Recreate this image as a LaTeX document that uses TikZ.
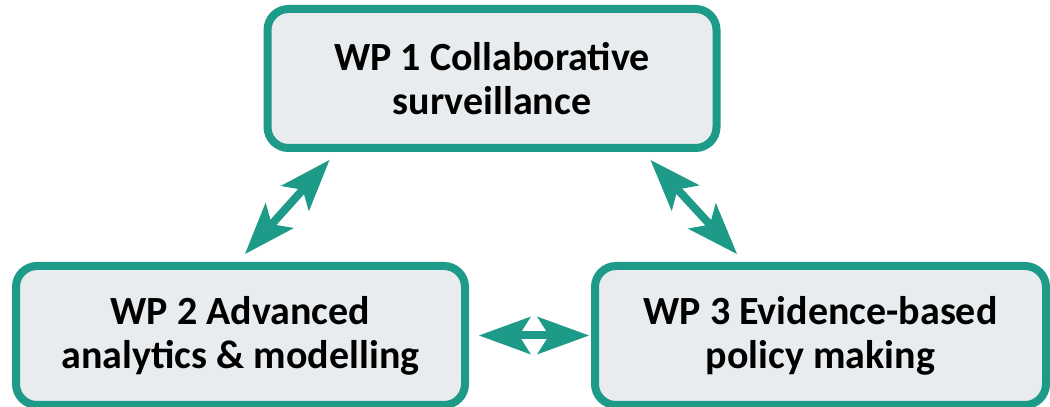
\documentclass[tikz,border=0pt]{standalone}
\usepackage{fontspec}
\setmainfont{Carlito}
\usetikzlibrary{arrows.meta,calc}
\definecolor{tealline}{RGB}{30,154,136}
\definecolor{boxfill}{RGB}{232,236,238}
\begin{document}
\begin{tikzpicture}[x=1pt,y=1pt,
  wpbox/.style={draw=tealline, fill=boxfill, line width=8pt, rounded corners=21pt,
    minimum width=449pt, minimum height=139pt, inner sep=0pt, outer sep=0pt, align=center,
    font=\fontsize{40}{44}\selectfont\bfseries},
  dblarrow/.style={draw=tealline, line width=8pt,
    {Stealth[length=52pt,width=38pt,inset=12pt,line width=0pt]}-{Stealth[length=52pt,width=38pt,inset=12pt,line width=0pt]}}]
\useasboundingbox (0,0) rectangle (1050,407);
\node[wpbox] (wp1) at (492,328.5) {WP 1 Collaborative\\surveillance};
\node[wpbox] (wp2) at (240.5,71.5) {WP 2 Advanced\\analytics \& modelling};
\node[wpbox, minimum width=451pt] (wp3) at (820.5,71.5) {WP 3 Evidence-based\\policy making};
\coordinate (a1) at ($(wp2.north)+(4.5,12)$);
\coordinate (b1) at ($(wp1.south west)+(62,-12)$);
\coordinate (a2) at ($(wp1.south east)+(-66,-12)$);
\coordinate (b2) at ($(wp3.north west)+(142,12)$);
\coordinate (a3) at ($(wp2.east)+(14,0)$);
\coordinate (b3) at ($(wp3.west)+(-6,0)$);
\draw[dblarrow] (a1) -- (b1);
\draw[dblarrow] (a2) -- (b2);
\draw[dblarrow] (a3) -- (b3);
\end{tikzpicture}
\end{document}
